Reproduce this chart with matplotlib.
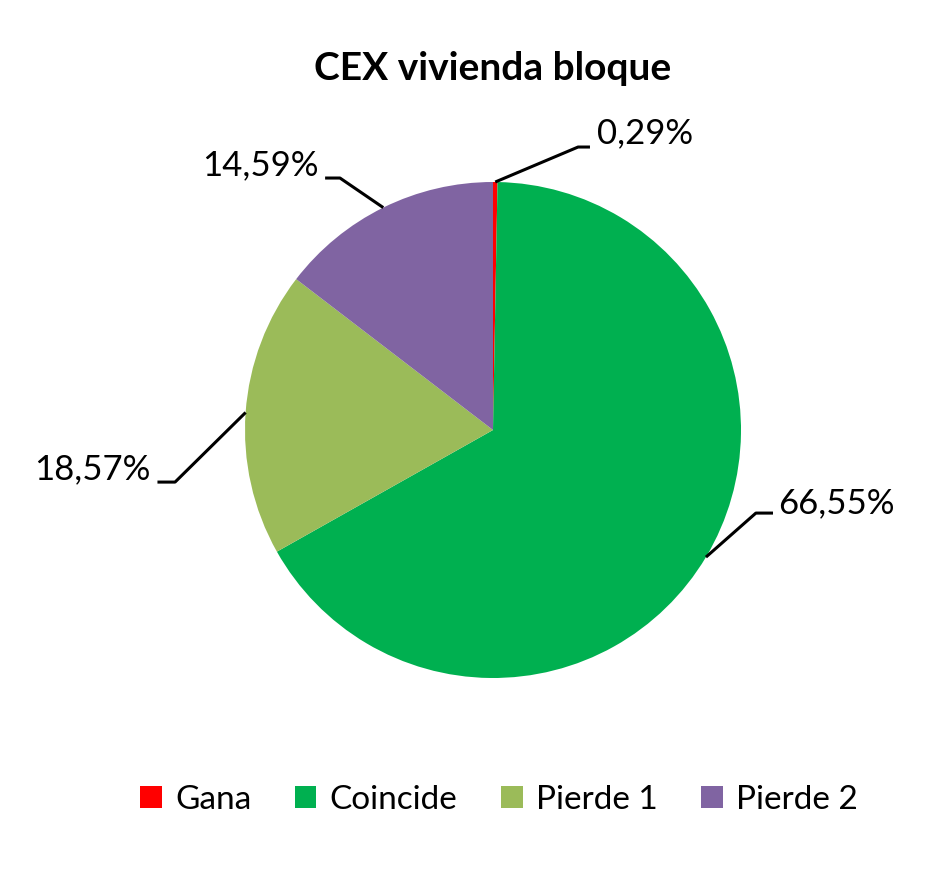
import numpy as np
import matplotlib
matplotlib.use("Agg")
import matplotlib.pyplot as plt
from matplotlib.patches import Patch

# ----------------------------------------------------------
# DATOS
# ----------------------------------------------------------
categorias = ["Gana", "Coincide", "Pierde 1", "Pierde 2"]
porcentajes = [0.29, 66.55, 18.57, 14.59]
colores = ["#FF0000", "#00B050", "#9BBB59", "#8064A2"]
titulo = "CEX vivienda bloque"

# codo de la línea guía, fin horizontal y posición del texto (radios)
codos = [(0.343, 1.141), (1.060, -0.335), (-1.282, -0.210), (-0.617, 1.016)]
finales = [(0.391, 1.141), (1.129, -0.335), (-1.353, -0.210), (-0.677, 1.016)]
textos = [(0.420, 1.198), (1.150, -0.294), (-1.380, -0.160), (-0.703, 1.069)]

plt.rcParams["font.family"] = ["Lato", "DejaVu Sans"]

W, H = 944, 876
fig = plt.figure(figsize=(W / 100, H / 100), dpi=100)

# centro del pastel en píxeles y radio
cx, cy, R = 493, 430, 248
ax = fig.add_axes([(cx - R) / W, (H - cy - R) / H, 2 * R / W, 2 * R / H])

wedges, _ = ax.pie(porcentajes, colors=colores, startangle=90,
                   counterclock=False, radius=1.0)
ax.set_xlim(-1, 1)
ax.set_ylim(-1, 1)
ax.set_aspect("equal")
ax.axis("off")

for i, w in enumerate(wedges):
    ang = np.radians((w.theta1 + w.theta2) / 2)
    x0, y0 = np.cos(ang), np.sin(ang)
    xs = [x0, codos[i][0], finales[i][0]]
    ys = [y0, codos[i][1], finales[i][1]]
    ax.plot(xs, ys, color="black", lw=2.2, clip_on=False, solid_capstyle="butt")
    tx, ty = textos[i]
    ha = "left" if tx > 0 else "right"
    etiqueta = f"{porcentajes[i]:.2f}%".replace(".", ",")
    ax.text(tx, ty, etiqueta, ha=ha, va="center", fontsize=25,
            clip_on=False)

fig.text(493 / W, 1 - 68 / H, titulo, ha="center", va="center",
         fontsize=28, fontweight="bold")

handles = [Patch(facecolor=c, edgecolor="none") for c in colores]
fig.legend(handles, categorias, loc="center", ncol=4,
           bbox_to_anchor=(499 / W, 1 - 800 / H), frameon=False,
           fontsize=24, handlelength=0.65, handleheight=0.65,
           handletextpad=0.4, columnspacing=1.3)

fig.savefig("out.png", dpi=100)
